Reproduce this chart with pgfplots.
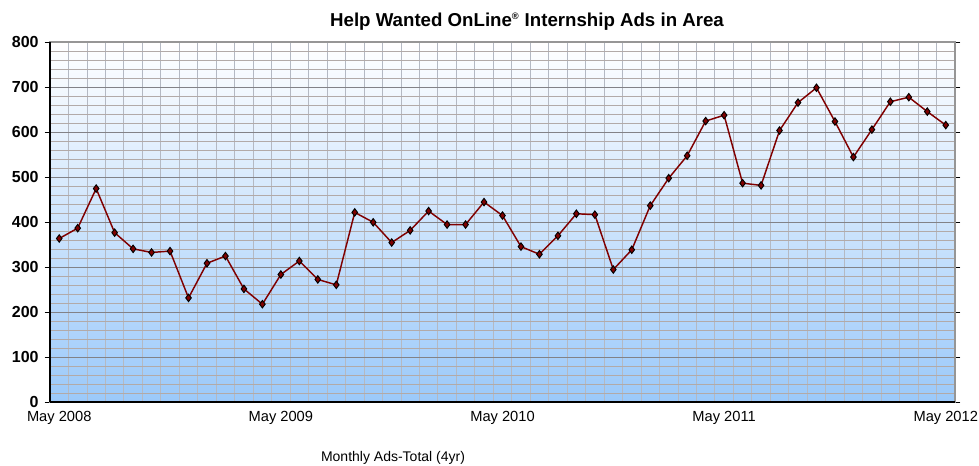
\documentclass[border=0pt]{standalone}
\usepackage{fontspec}
\setmainfont{Liberation Sans}
\usepackage{pgfplots}
\pgfplotsset{compat=1.18}
\definecolor{lnred}{RGB}{128,0,0}
\definecolor{bgblue}{RGB}{155,201,250}
\definecolor{majgrid}{RGB}{130,130,135}
\definecolor{mingrid}{RGB}{178,170,168}
\definecolor{vgrid}{RGB}{180,185,195}
\definecolor{frame}{RGB}{150,150,150}
\begin{document}
\begin{tikzpicture}[x=0.75pt,y=0.75pt]
\useasboundingbox (-50,-62.7) rectangle (929,402.3);
\begin{axis}[
  name=ax,
  at={(0,0)}, anchor=south west,
  scale only axis,
  width=678.75pt, height=270pt,
  xmin=-0.5, xmax=48.5,
  ymin=0, ymax=800,
  xtick={0,12,24,36,48},
  xticklabels={May 2008,May 2009,May 2010,May 2011,May 2012},
  minor xtick={-0.5,0.5,...,48.5},
  xmajorgrids=false, xminorgrids=true,
  ytick={0,100,...,800},
  minor ytick={20,40,60,80,120,140,160,180,220,240,260,280,320,340,360,380,420,440,460,480,520,540,560,580,620,640,660,680,720,740,760,780},
  ymajorgrids=true, yminorgrids=true,
  major grid style={draw=majgrid, line width=0.8pt},
  minor grid style={draw=mingrid, line width=0.6pt},
  x grid style={draw=vgrid, line width=0.6pt},
  xtick style={draw=none},
  minor x tick style={draw=none},
  minor y tick style={draw=none},
  ytick style={draw=black, line width=0.6pt},
  tick align=outside,
  major tick length=4pt,
  axis line style={draw=frame, line width=1.5pt},
  axis background/.style={top color=white, bottom color=bgblue},
  /pgf/number format/assume math mode=true,
  yticklabel style={font=\bfseries\fontsize{12}{14}\selectfont, xshift=-1pt},
  xticklabel style={font=\fontsize{11}{13}\selectfont, yshift=1pt},
  clip=false,
]
\addplot[color=lnred, line width=1.1pt, mark=diamond*, mark size=2.8pt,
  mark options={fill=lnred, draw=black, line width=0.7pt}]
  coordinates {
(0,364) (1,387) (2,475) (3,377) (4,341) (5,333) (6,336) (7,232) (8,309) (9,325)
(10,252) (11,218) (12,284) (13,314) (14,273) (15,261) (16,422) (17,400) (18,355) (19,382)
(20,425) (21,395) (22,395) (23,445) (24,415) (25,346) (26,329) (27,370) (28,419) (29,417)
(30,295) (31,339) (32,437) (33,498) (34,548) (35,625) (36,638) (37,487) (38,482) (39,604)
(40,666) (41,699) (42,624) (43,545) (44,606) (45,668) (46,678) (47,646) (48,616)
  };
\draw[black, line width=1.6pt] (rel axis cs:0,0) -- (rel axis cs:0,1);
\draw[black, line width=1.6pt] (rel axis cs:0,0) -- (rel axis cs:1,0);
\end{axis}
\node[font=\bfseries\fontsize{14}{16}\selectfont] at (477,381) {Help Wanted OnLine\textsuperscript{\scriptsize\textregistered} Internship Ads in Area};
\node[font=\fontsize{10.5}{12}\selectfont] at (343,-56) {Monthly Ads-Total (4yr)};
\end{tikzpicture}
\end{document}
